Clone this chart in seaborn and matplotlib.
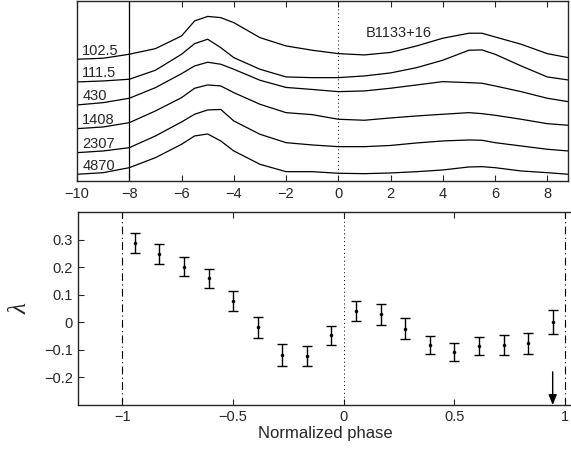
import numpy as np
import pandas as pd
import matplotlib
matplotlib.use("Agg")
import matplotlib.pyplot as plt
import seaborn as sns

# ---------------- data ----------------
longitude = [-10, -9, -8, -7, -6, -5.5, -5, -4.5, -4, -3, -2, -1, 0, 1, 2, 3, 4, 5, 5.5, 6, 7, 8, 8.8]
freq_labels = ["102.5", "111.5", "430", "1408", "2307", "4870"]
prof_1025 = [121.7, 122.7, 126.7, 132.3, 145, 160, 164.5, 163.3, 158.3, 143.3, 135, 130.7, 127.3, 126, 128.5, 135, 142.7, 147.7, 147.7, 144, 136.7, 127.3, 123.3]
prof_1115 = [99, 100, 101.7, 110.7, 126.7, 137.3, 141.7, 133.3, 123.3, 111.7, 104, 103.3, 103.3, 105, 108, 113.3, 120.7, 130.7, 131, 126.7, 115, 104, 101]
prof_430 = [76, 78.3, 82.7, 93.3, 107.3, 115, 118.7, 116.7, 111.7, 100.7, 93.5, 91.5, 89.3, 90, 92.7, 96, 99.3, 98.3, 97.7, 95, 89.3, 82.7, 79.3]
prof_1408 = [52.3, 54, 58.3, 70, 83.3, 92.7, 96, 95, 88.3, 76.7, 68.3, 66.3, 61.7, 60.7, 63, 65, 66.7, 68.3, 67.3, 65.7, 61.7, 57.3, 55.7]
prof_2307 = [28.3, 30, 33.3, 45, 59, 66.7, 71, 71.5, 60, 46.7, 38.3, 36, 34.3, 34.3, 35.5, 38, 40, 41, 40.7, 38.3, 35, 31.7, 30]
prof_4870 = [6.7, 8.3, 13.3, 23.3, 36.7, 45, 47, 40, 30, 16.7, 9.3, 9.3, 7.7, 7.3, 8, 9.3, 11, 14, 14.3, 13.3, 10, 8.3, 6.7]
profiles = [prof_1025, prof_1115, prof_430, prof_1408, prof_2307, prof_4870]

phase = [-17/18, -15/18, -13/18, -11/18, -9/18, -7/18, -5/18, -3/18, -1/18,
         1/18, 3/18, 5/18, 7/18, 9/18, 11/18, 13/18, 15/18, 17/18]
lam = [0.289, 0.248, 0.202, 0.159, 0.078, -0.019, -0.119, -0.123, -0.047,
       0.041, 0.029, -0.023, -0.083, -0.107, -0.087, -0.083, -0.076, 0.001]
lam_err = [0.036, 0.036, 0.034, 0.033, 0.036, 0.038, 0.039, 0.035, 0.035,
           0.036, 0.039, 0.037, 0.033, 0.033, 0.033, 0.035, 0.038, 0.045]
arrow_phase = 17/18

# ---------------- style ----------------
sns.set_style("ticks")
plt.rcParams['font.family'] = ['Liberation Sans', 'DejaVu Sans']
plt.rcParams['xtick.direction'] = 'in'
plt.rcParams['ytick.direction'] = 'in'
plt.rcParams['xtick.top'] = True
plt.rcParams['xtick.labelsize'] = 10.5
plt.rcParams['ytick.labelsize'] = 10.5
plt.rcParams['axes.linewidth'] = 1.0

fig = plt.figure(figsize=(5.71, 4.57), dpi=100)
ax1 = fig.add_axes([0.135, 0.604, 0.860, 0.394])
ax2 = fig.add_axes([0.137, 0.114, 0.866, 0.422])

# ---------------- top panel ----------------
rows = []
for lab, prof in zip(freq_labels, profiles):
    for x, v in zip(longitude, prof):
        rows.append({"lon": x, "I": v, "freq": lab})
df = pd.DataFrame(rows)
sns.lineplot(data=df, x="lon", y="I", units="freq", estimator=None,
             color="black", lw=0.9, ax=ax1, legend=False)
for lab, prof in zip(freq_labels, profiles):
    ax1.text(-9.8, prof[0] + 1.5, lab, fontsize=10.5, ha="left", va="bottom")
ax1.axvline(-8, color="black", lw=0.9)
ax1.axvline(0, color="black", lw=0.7, ls=(0, (1, 3)))
ax1.text(1.07, 148.3, "B1133+16", fontsize=10.5, ha="left", va="center")
ax1.set_xlim(-10, 8.8)
ax1.set_ylim(0, 180)
ax1.set_xticks(range(-10, 9, 2))
ax1.set_xticklabels([("\u2212" + str(-t)) if t < 0 else str(t) for t in range(-10, 9, 2)])
ax1.set_yticks([])
ax1.set_xlabel("")
ax1.set_ylabel("")
ax1.tick_params(axis="x", length=4, pad=4)

# ---------------- bottom panel ----------------
ax2.errorbar(phase, lam, yerr=lam_err, fmt="none", ecolor="black",
             elinewidth=1.0, capsize=3.5, capthick=1.0)
sns.scatterplot(x=phase, y=lam, color="black", s=5, edgecolor="black",
                linewidth=0.3, ax=ax2, zorder=3)
ax2.axvline(-1, color="black", lw=0.8, ls=(0, (7, 3, 1, 3)))
ax2.axvline(1, color="black", lw=0.8, ls=(0, (7, 3, 1, 3)))
ax2.axvline(0, color="black", lw=0.7, ls=(0, (1, 3)))
ax2.annotate("", xy=(arrow_phase, -0.3), xytext=(arrow_phase, -0.18),
             arrowprops=dict(arrowstyle="-|>,head_length=0.6,head_width=0.25",
                             color="black", lw=1.0, shrinkA=0, shrinkB=0))
ax2.set_xlim(-1.2, 1.035)
ax2.set_ylim(-0.3, 0.4)
ax2.set_xticks([-1, -0.5, 0, 0.5, 1])
ax2.set_xticklabels(["\u22121", "\u22120.5", "0", "0.5", "1"])
ax2.set_yticks([-0.2, -0.1, 0, 0.1, 0.2, 0.3])
ax2.set_yticklabels(["\u22120.2", "\u22120.1", "0", "0.1", "0.2", "0.3"])
ax2.tick_params(axis="both", length=4, pad=4)
ax2.spines["right"].set_visible(False)
ax2.set_xlabel("Normalized phase", fontsize=12, labelpad=1)
ax2.set_ylabel("\u03bb", fontsize=18, family="Liberation Serif", style="italic",
               rotation=90, labelpad=9)

fig.savefig("out.png", dpi=100)
